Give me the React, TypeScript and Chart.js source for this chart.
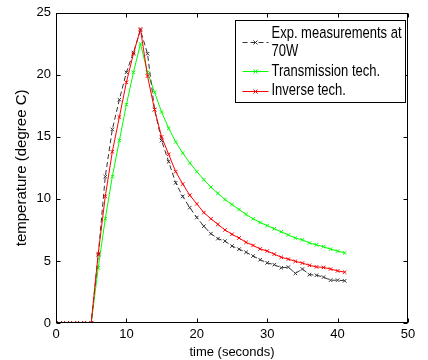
import { useEffect, useRef } from 'react';
import { Chart, registerables } from 'chart.js';

Chart.register(...registerables);

// time axis (seconds)
const timeSeconds = [0, 1, 2, 3, 4, 5, 6, 7, 8, 9, 10, 11, 12, 13, 14, 15, 16, 17, 18, 19, 20,
  21, 22, 23, 24, 25, 26, 27, 28, 29, 30, 31, 32, 33, 34, 35, 36, 37, 38, 39, 40, 41];

// Exp. measurements at 70W
const expMeasurements = [0, 0, 0, 0, 0, 0, 5.5, 11.8, 15.6, 18.0, 20.2, 21.8, 23.6, 21.7, 17.2, 14.7,
  13.0, 11.3, 10.2, 9.3, 8.5, 7.8, 7.2, 6.8, 6.6, 6.2, 5.95, 5.7, 5.4, 5.1, 4.85, 4.7, 4.45, 4.5,
  4.0, 4.35, 3.9, 3.85, 3.7, 3.45, 3.45, 3.4];

// Transmission tech.
const transmissionTech = [0, 0, 0, 0, 0, 0, 4.45, 8.4, 11.8, 14.7, 17.6, 20.2, 22.5, 20.2, 18.6, 17.0,
  15.7, 14.6, 13.7, 12.9, 12.2, 11.55, 10.95, 10.45, 9.95, 9.55, 9.15, 8.75, 8.4, 8.1, 7.85, 7.6,
  7.35, 7.1, 6.85, 6.7, 6.45, 6.3, 6.15, 5.95, 5.8, 5.65];

// Inverse tech.
const inverseTech = [0, 0, 0, 0, 0, 0, 5.6, 10.2, 13.8, 16.6, 19.4, 21.7, 23.7, 19.9, 17.2, 15.0,
  13.6, 12.2, 11.2, 10.3, 9.6, 8.9, 8.4, 7.95, 7.5, 7.15, 6.85, 6.5, 6.25, 5.97, 5.8, 5.55, 5.3,
  5.15, 4.97, 4.83, 4.65, 4.52, 4.48, 4.35, 4.2, 4.1];

const xTicks = [0, 10, 20, 30, 40, 50];
const yTicks = [0, 5, 10, 15, 20, 25];

const seriesNames = ['Exp. measurements at 70W', 'Transmission tech.', 'Inverse tech.'];
const legendLines = [['Exp. measurements at', '70W'], ['Transmission tech.'], ['Inverse tech.']];
const seriesColors = ['#333333', '#00ff00', '#ff0000'];

const FONT = '"Liberation Sans", Arial, Helvetica, sans-serif';

const toPoints = (vals: number[]) => vals.map((v, i) => ({ x: timeSeconds[i], y: v }));

function drawCross(ctx: CanvasRenderingContext2D, x: number, y: number, r: number) {
  ctx.beginPath();
  ctx.moveTo(x - r, y - r);
  ctx.lineTo(x + r, y + r);
  ctx.moveTo(x - r, y + r);
  ctx.lineTo(x + r, y - r);
  ctx.stroke();
}

const framePlugin = {
  id: 'matlabFrame',
  afterDatasetsDraw(chart: any) {
    const { ctx, chartArea, scales } = chart;
    const l = Math.round(chartArea.left) + 0.5;
    const r = Math.round(chartArea.right) - 0.5;
    const t = Math.round(chartArea.top) + 0.5;
    const b = Math.round(chartArea.bottom) - 0.5;
    ctx.save();
    ctx.strokeStyle = '#000';
    ctx.lineWidth = 1;
    ctx.setLineDash([]);
    ctx.strokeRect(l, t, r - l, b - t);
    const tl = 4;
    ctx.beginPath();
    xTicks.forEach((v) => {
      const px = Math.round(scales.x.getPixelForValue(v)) + 0.5;
      ctx.moveTo(px, b);
      ctx.lineTo(px, b - tl);
      ctx.moveTo(px, t);
      ctx.lineTo(px, t + tl);
    });
    yTicks.forEach((v) => {
      const py = Math.round(scales.y.getPixelForValue(v)) + 0.5;
      ctx.moveTo(l, py);
      ctx.lineTo(l + tl, py);
      ctx.moveTo(r, py);
      ctx.lineTo(r - tl, py);
    });
    ctx.stroke();

    // legend box
    const boxR = Math.round(chartArea.right) - 2.5;
    const boxL = boxR - 170;
    const boxT = Math.round(chartArea.top) + 7.5;
    const boxB = boxT + 82;
    ctx.fillStyle = '#fff';
    ctx.fillRect(boxL, boxT, boxR - boxL, boxB - boxT);
    ctx.strokeStyle = '#000';
    ctx.strokeRect(boxL, boxT, boxR - boxL, boxB - boxT);

    const sampleX0 = boxL + 7;
    const sampleX1 = boxL + 33;
    const textX = boxL + 36;
    const rowCenters = [[boxT + 13.5, boxT + 31], [boxT + 51], [boxT + 70]];
    const sampleY = [boxT + 21, boxT + 50.5, boxT + 70];
    ctx.font = '13px ' + FONT;
    ctx.textBaseline = 'middle';
    ctx.textAlign = 'left';
    legendLines.forEach((lines, i) => {
      ctx.strokeStyle = seriesColors[i];
      ctx.lineWidth = 1;
      ctx.setLineDash(i === 0 ? [5, 3] : []);
      ctx.beginPath();
      ctx.moveTo(sampleX0, Math.round(sampleY[i]) + 0.5);
      ctx.lineTo(sampleX1, Math.round(sampleY[i]) + 0.5);
      ctx.stroke();
      ctx.setLineDash([]);
      drawCross(ctx, (sampleX0 + sampleX1) / 2, Math.round(sampleY[i]) + 0.5, 2);
      ctx.fillStyle = '#000';
      lines.forEach((s, j) => {
        ctx.save();
        ctx.translate(textX, rowCenters[i][j]);
        ctx.scale(1, 1.25);
        ctx.fillText(s, 0, 0);
        ctx.restore();
      });
    });
    ctx.restore();
  },
};

export default function App() {
  const canvasRef = useRef<HTMLCanvasElement | null>(null);

  useEffect(() => {
    const canvas = canvasRef.current;
    if (!canvas) return;
    const common = {
      borderWidth: 1,
      pointStyle: 'crossRot' as const,
      pointRadius: 2.5,
      pointBorderWidth: 1,
      tension: 0,
      fill: false,
    };
    const chart = new Chart(canvas, {
      type: 'line',
      data: {
        datasets: [
          {
            ...common,
            label: seriesNames[0],
            data: toPoints(expMeasurements),
            borderColor: seriesColors[0],
            pointBorderColor: seriesColors[0],
            backgroundColor: seriesColors[0],
            borderDash: [5, 3],
            order: 1,
          },
          {
            ...common,
            label: seriesNames[1],
            data: toPoints(transmissionTech),
            borderColor: seriesColors[1],
            pointBorderColor: seriesColors[1],
            backgroundColor: seriesColors[1],
            order: 2,
          },
          {
            ...common,
            label: seriesNames[2],
            data: toPoints(inverseTech),
            borderColor: seriesColors[2],
            pointBorderColor: seriesColors[2],
            backgroundColor: seriesColors[2],
            order: 0,
          },
        ],
      },
      options: {
        animation: false,
        responsive: false,
        maintainAspectRatio: false,
        layout: { padding: { left: 0, right: 20, top: 12, bottom: 0 } },
        plugins: {
          legend: { display: false },
          tooltip: { enabled: false },
        },
        scales: {
          x: {
            type: 'linear',
            min: 0,
            max: 50,
            afterFit: (s: any) => { s.height = 37; },
            afterBuildTicks: (s: any) => { s.ticks = xTicks.map((v) => ({ value: v })); },
            grid: { display: false, drawTicks: false },
            border: { display: false },
            ticks: { color: '#000', padding: 4, font: { family: FONT, size: 13 }, maxRotation: 0 },
            title: {
              display: true,
              text: 'time (seconds)',
              color: '#000',
              font: { family: FONT, size: 13 },
              padding: { top: 0, bottom: 0 },
            },
          },
          y: {
            type: 'linear',
            min: 0,
            max: 25,
            afterFit: (s: any) => { s.width = 56; },
            afterBuildTicks: (s: any) => { s.ticks = yTicks.map((v) => ({ value: v })); },
            grid: { display: false, drawTicks: false },
            border: { display: false },
            ticks: { color: '#000', padding: 5, font: { family: FONT, size: 13 } },
            title: {
              display: true,
              text: 'temperature (degree C)',
              color: '#000',
              font: { family: FONT, size: 15 },
              padding: { top: 13, bottom: 0 },
            },
          },
        },
      },
      plugins: [framePlugin],
    });
    return () => chart.destroy();
  }, []);

  return (
    <div style={{ position: 'absolute', left: 0, top: 0, width: 428, height: 360, background: '#fff' }}>
      <canvas ref={canvasRef} width={428} height={360} style={{ display: 'block' }} />
    </div>
  );
}
